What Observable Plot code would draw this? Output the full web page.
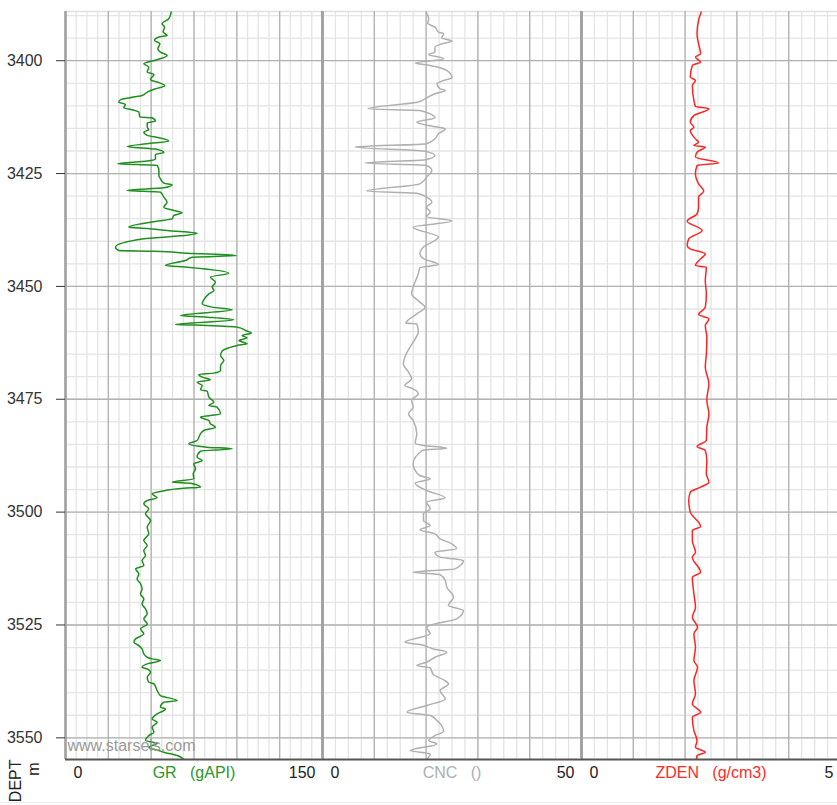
<!DOCTYPE html>
<html>
<head>
<meta charset="utf-8">
<script src="https://cdn.jsdelivr.net/npm/d3@7"></script>
<script src="https://cdn.jsdelivr.net/npm/@observablehq/plot@0.6"></script>
<style>
html, body { margin: 0; padding: 0; background: #fff; }
#chart { position: relative; width: 837px; height: 805px; overflow: hidden; font-family: "Liberation Sans", Arial, sans-serif; }
#chart svg { position: absolute; top: 0; }
#sep { position: absolute; left: 0; top: 802px; width: 837px; height: 0; border-top: 1px solid #ececec; }
</style>
</head>
<body>
<div id="chart"><div id="sep"></div></div>
<script>
// ---------- depth axis ----------
const depthDomain = [3389.1, 3554.8];
const depthTicks = [3400, 3425, 3450, 3475, 3500, 3525, 3550];
const minorDepthTicks = d3.range(3390, 3555, 5);
const depthLabel = "DEPT";
const depthUnit = "m";
const watermark = "www.starseis.com";

// ---------- GR track ----------
const grTitle = "GR\u00a0\u00a0\u00a0(gAPI)";
const grScale = [0, 150];
const grTickLabels = ["0", "150"];
const grMajor = [25, 50, 75, 100, 125];
const grMinor = d3.range(0, 150, 6.25);
const grDepth = [
  3389.22,3390.70,3391.81,3392.55,3393.66,3394.39,3394.76,3395.50,3396.24,3397.35,3398.09,3398.83,3399.79,
  3400.67,3401.41,3402.52,3403.04,3404.22,3404.73,3405.55,3406.21,3406.95,3407.69,3408.06,3408.65,3409.17,
  3409.68,3410.42,3410.87,3411.38,3412.49,3412.64,3413.38,3413.82,3414.70,3415.29,3415.81,3416.55,3417.06,
  3417.80,3418.40,3418.99,3419.58,3420.32,3420.76,3421.72,3422.24,3422.83,3423.20,3424.31,3425.42,3426.16,
  3427.12,3427.49,3428.15,3428.74,3429.11,3430.22,3431.33,3432.44,3433.18,3433.70,3434.29,3435.03,3435.62,
  3436.88,3437.17,3437.61,3438.20,3438.80,3439.46,3441.31,3442.05,3442.20,3442.64,3443.16,3443.53,3444.27,
  3445.36,3445.73,3447.06,3447.94,3449.05,3450.16,3450.90,3451.64,3452.97,3453.85,3454.59,3455.18,3456.44,
  3456.81,3457.40,3458.43,3458.65,3459.02,3459.76,3460.35,3460.87,3461.39,3461.98,3462.72,3463.08,3463.60,
  3464.34,3465.30,3466.41,3467.52,3468.62,3469.21,3469.51,3470.10,3470.69,3471.21,3471.95,3472.91,3473.20,
  3474.53,3475.64,3476.38,3476.75,3478.23,3478.60,3478.96,3479.70,3480.44,3481.18,3481.92,3482.66,3484.13,
  3484.87,3485.61,3485.98,3486.50,3487.83,3488.57,3489.31,3490.41,3491.52,3492.63,3493.37,3493.59,3494.47,
  3494.70,3495.44,3495.95,3496.84,3497.43,3498.17,3499.27,3500.38,
  3501.86,3503.34,3504.81,3506.29,3507.40,3508.51,3509.62,3510.72,3511.83,3512.57,3513.68,3514.79,3515.89,
  3517.00,3518.11,3519.22,3520.33,3521.43,3522.54,3523.65,3524.76,3525.86,3526.97,3528.08,3528.82,3529.56,
  3530.30,3531.40,3532.14,3532.51,3532.88,3533.62,3534.36,3534.73,3535.47,3536.58,3537.68,3538.05,3539.53,
  3540.64,3541.74,3542.11,3543.22,3543.59,3544.70,3545.81,3546.55,3547.65,3548.76,3549.50,3550.61,3551.20,
  3552.08,3552.82,3553.19,3553.93,3554.74
];
const grValue = [
  61.7,60.3,56.4,57.8,57.0,59.3,54.5,51.9,55.1,53.9,55.4,59.3,53.5,
  45.7,48.6,47.7,51.6,49.6,53.5,58.0,52.5,47.7,44.7,39.9,32.1,31.1,
  35.0,34.0,38.9,42.8,43.4,50.6,52.5,47.7,47.7,48.6,45.7,47.7,54.5,
  60.3,47.7,36.0,52.5,57.4,52.5,52.5,47.7,30.5,53.5,54.5,54.5,55.4,
  57.4,62.3,57.4,36.0,55.4,57.4,59.3,57.4,63.2,68.1,63.2,62.3,52.5,
  37.0,47.7,59.3,76.8,67.1,45.7,29.2,31.1,51.6,71.0,99.8,73.9,70.0,
  58.4,71.0,95.3,84.6,87.5,85.6,86.6,83.7,80.7,79.8,85.6,97.3,67.1,
  82.7,98.2,64.2,82.7,100.2,105.1,108.4,103.1,106.0,101.2,106.0,100.2,95.3,
  91.4,90.5,92.4,90.5,90.5,86.6,77.8,79.8,84.6,76.8,79.8,78.8,82.7,
  83.7,86.6,83.7,88.5,90.5,84.6,78.8,83.7,84.6,87.5,80.7,78.8,76.8,
  72.0,82.7,97.3,78.8,76.8,79.8,74.9,75.9,74.5,74.9,62.3,73.0,78.8,
  69.1,55.4,50.6,53.5,47.7,45.7,48.6,46.7,
  49.6,47.7,48.6,45.7,47.7,45.7,46.7,44.7,45.7,40.9,42.8,41.8,43.8,
  44.7,43.8,45.7,44.7,46.7,47.7,45.7,47.7,43.8,45.7,40.9,39.9,42.8,
  44.7,45.7,47.7,50.6,55.4,47.7,44.7,47.7,49.6,47.7,48.6,51.6,53.5,
  55.4,65.2,57.4,55.4,58.4,53.5,50.6,53.5,50.6,51.6,48.6,46.7,53.5,
  48.6,54.5,57.4,65.2,69.1
];

// ---------- CNC track ----------
const cncTitle = "CNC\u00a0\u00a0\u00a0()";
const cncScale = [0, 50];
const cncTickLabels = ["0", "50"];
const cncMajor = [10, 20, 30, 40];
const cncMinor = d3.range(0, 50, 2.5);
const cncDepth = [
  3389.22,3390.70,3391.66,3392.55,3393.66,3394.03,3394.92,3395.66,3396.39,3397.13,3398.09,3398.61,3399.56,
  3400.52,3401.04,3402.15,3403.78,3404.37,3405.10,3406.21,3406.58,3407.32,3408.21,3409.17,3410.65,3411.02,
  3412.64,3413.60,3414.56,3415.07,3416.18,3417.29,3418.40,3419.13,3420.02,3420.98,3421.94,3422.68,3423.20,
  3424.31,3425.79,3427.27,3428.89,3429.34,3430.22,3431.33,3432.44,3433.55,3434.51,3435.53,3436.88,3439.07,
  3441.28,3442.76,3443.87,
  3445.14,3445.87,3447.20,3450.16,3451.64,3453.48,3454.59,3456.07,3458.14,3458.28,3460.13,3461.61,3463.45,
  3465.67,3467.15,3468.99,3470.47,3471.95,3472.69,3473.79,3475.27,3476.75,3478.23,3479.70,3482.66,3484.73,
  3485.24,3485.83,3486.35,3489.31,3490.78,3491.89,3492.63,3493.59,3495.21,3496.84,3497.80,3499.27,3500.38,
  3501.86,3502.97,3503.93,3504.81,3505.92,3506.66,3508.14,3508.88,3509.98,3510.35,3510.72,3512.57,3513.31,
  3513.83,3515.15,3516.63,3518.85,3520.69,3521.80,3523.65,3524.76,3525.50,3526.97,3528.82,3529.34,3530.30,
  3531.03,3532.14,3533.25,3533.99,3534.51,3535.98,3537.17,3538.05,3539.53,3541.38,3542.85,3544.33,3545.07,
  3546.18,3547.28,3548.54,3549.50,3550.61,3551.35,3552.82,3553.56,3554.74
];
const cncValue = [
  20.0,20.5,20.3,21.7,22.4,23.4,23.0,25.0,22.7,21.7,21.7,20.5,23.4,
  17.9,20.8,24.0,25.0,23.4,22.1,22.7,23.7,21.7,20.1,18.5,8.8,18.8,
  21.7,18.2,21.4,23.7,22.4,21.7,20.1,6.3,19.5,21.7,19.8,8.2,20.1,
  21.1,20.1,18.8,8.5,18.2,20.1,21.1,20.1,20.8,20.1,25.0,17.5,22.4,
  19.5,18.8,19.5,
  22.4,18.8,18.5,17.5,17.2,18.8,19.8,18.2,16.1,18.2,18.5,17.9,16.9,
  15.9,15.6,16.6,17.2,15.9,17.5,18.5,17.2,17.5,16.6,17.5,18.2,17.9,
  19.5,24.0,19.2,17.5,17.9,18.8,20.8,17.9,20.1,23.7,20.1,20.8,19.5,
  19.5,20.8,18.8,21.7,22.7,24.3,25.9,21.7,22.7,25.3,27.2,25.6,17.5,
  22.7,23.7,24.0,25.3,24.3,27.2,25.9,21.7,20.1,20.8,15.9,18.8,21.4,
  24.0,21.7,20.1,18.2,20.8,21.4,23.4,24.3,22.7,23.7,20.1,16.3,20.8,
  22.1,23.0,23.4,21.7,20.5,22.1,16.9,20.8,20.1
];

// ---------- ZDEN track ----------
const zdenTitle = "ZDEN\u00a0\u00a0\u00a0(g/cm3)";
const zdenScale = [0, 5];
const zdenTickLabels = ["0", "5"];
const zdenMajor = [1, 2, 3, 4];
const zdenMinor = d3.range(0, 5, 0.25);
const zdenDepth = [
  3389.22,3391.07,3394.03,3396.24,3398.46,3399.19,3400.30,3401.04,3403.63,3404.37,3405.47,3408.80,3410.13,
  3410.65,3412.16,3413.63,3414.74,3415.48,3417.32,3418.06,3418.80,3419.13,3420.24,3421.35,3422.68,3423.20,
  3425.05,3427.27,3428.89,3430.22,3432.44,3433.92,3435.55,3437.61,3439.46,3440.94,3441.68,3442.79,3443.90,
  3445.38,3445.75,3448.70,3451.66,3454.61,3456.24,3457.20,3458.68,3461.26,3464.96,3467.91,3471.60,3474.93,
  3475.27,3478.22,3481.18,3484.13,3485.46,3486.35,3488.56,3491.52,3493.37,3494.47,3495.58,3497.43,3500.01,
  3503.19,3504.08,3506.29,3508.88,3509.98,3513.31,3514.42,3518.11,3521.06,3523.28,3525.50,3526.97,3529.93,
  3532.88,3534.36,3537.31,3540.27,3542.48,3544.33,3545.44,3548.39,3550.61,3552.09,3553.19,3553.93,3554.89
];
const zdenValue = [
  2.31,2.26,2.23,2.26,2.30,2.20,2.30,2.14,2.10,2.20,2.14,2.17,2.20,
  2.46,2.17,2.10,2.17,2.10,2.20,2.26,2.17,2.39,2.23,2.20,2.65,2.23,
  2.20,2.26,2.36,2.26,2.26,2.23,2.04,2.33,2.07,2.04,2.10,2.39,2.30,
  2.20,2.41,2.39,2.41,2.39,2.26,2.46,2.39,2.42,2.41,2.39,2.46,2.42,
  2.42,2.46,2.42,2.41,2.23,2.39,2.42,2.41,2.46,2.30,2.10,2.07,2.10,
  2.30,2.14,2.14,2.20,2.14,2.30,2.14,2.17,2.20,2.14,2.24,2.17,2.20,
  2.17,2.24,2.17,2.20,2.14,2.30,2.14,2.17,2.23,2.20,2.39,2.23,2.22
];

// ---------- drawing ----------
const FONT = "'Liberation Sans', Arial, sans-serif";

function makeTrack(cfg) {
  const data = cfg.depth.map((d, i) => ({depth: d, value: cfg.values[i]}));
  const marks = [
    Plot.ruleY(minorDepthTicks, {stroke: "#e4e4e4", strokeWidth: 1.3}),
    Plot.ruleX(cfg.minor, {stroke: "#e4e4e4", strokeWidth: 1.3}),
    Plot.ruleY([depthDomain[0]], {stroke: "#e0e0e0", strokeWidth: 1.3}),
    Plot.ruleY(depthTicks, {stroke: "#b2b2b2", strokeWidth: 1.3}),
    Plot.ruleX(cfg.major, {stroke: "#b2b2b2", strokeWidth: 1.3}),
    Plot.ruleX(cfg.scale, {stroke: "#a0a0a0", strokeWidth: 2.6}),
    Plot.line(data, {x: "value", y: "depth", stroke: cfg.color, strokeWidth: 1.5, curve: "monotone-y", clip: true}),
    Plot.ruleY([depthDomain[1]], {stroke: "#555", strokeWidth: 2}),
    Plot.text([cfg.scale[0]], {x: d => d, text: () => cfg.tickLabels[0], frameAnchor: "bottom", dy: 18, dx: 8, textAnchor: "start", fill: "#222", fontSize: 16}),
    Plot.text([cfg.scale[1]], {x: d => d, text: () => cfg.tickLabels[1], frameAnchor: "bottom", dy: 18, dx: -7, textAnchor: "end", fill: "#222", fontSize: 16}),
    Plot.text([cfg.title], {text: d => d, frameAnchor: "bottom", dy: 18, fill: cfg.titleColor, fontSize: 16})
  ];
  if (cfg.depthAxis) {
    marks.push(
      Plot.axisY(depthTicks, {anchor: "left", tickSize: 9, tickPadding: 14, tickFormat: "d", fontSize: 16, color: "#333", label: null}),
      Plot.text([watermark], {text: d => d, frameAnchor: "bottom-left", dx: 2, dy: -9, textAnchor: "start", fill: "#9a9a9a", fontSize: 16}),
      Plot.text([depthLabel], {text: d => d, frameAnchor: "bottom-left", dx: -45, dy: 0, rotate: -90, textAnchor: "end", fill: "#222", fontSize: 16}),
      Plot.text([depthUnit], {text: d => d, frameAnchor: "bottom-left", dx: -27, dy: 3, rotate: -90, textAnchor: "end", fill: "#222", fontSize: 16})
    );
  }
  const svg = Plot.plot({
    width: cfg.width,
    height: 805,
    marginLeft: cfg.marginLeft,
    marginRight: 0,
    marginTop: 11,
    marginBottom: 46,
    style: {background: "transparent", overflow: "visible", fontFamily: FONT, fontSize: "16px"},
    x: {domain: cfg.scale, axis: null},
    y: {domain: depthDomain, reverse: true, axis: null},
    marks
  });
  svg.style.left = cfg.left + "px";
  return svg;
}

const chart = document.getElementById("chart");
chart.appendChild(makeTrack({
  left: 0, width: 322, marginLeft: 65, depthAxis: true,
  scale: grScale, major: grMajor, minor: grMinor, tickLabels: grTickLabels,
  depth: grDepth, values: grValue, color: "#1f8f1f", title: grTitle, titleColor: "#2a962a"
}));
chart.appendChild(makeTrack({
  left: 322, width: 259, marginLeft: 0,
  scale: cncScale, major: cncMajor, minor: cncMinor, tickLabels: cncTickLabels,
  depth: cncDepth, values: cncValue, color: "#b0b0b0", title: cncTitle, titleColor: "#a9afb8"
}));
chart.appendChild(makeTrack({
  left: 581, width: 259, marginLeft: 0,
  scale: zdenScale, major: zdenMajor, minor: zdenMinor, tickLabels: zdenTickLabels,
  depth: zdenDepth, values: zdenValue, color: "#ff2424", title: zdenTitle, titleColor: "#ff2a2a"
}));
</script>
</body>
</html>
